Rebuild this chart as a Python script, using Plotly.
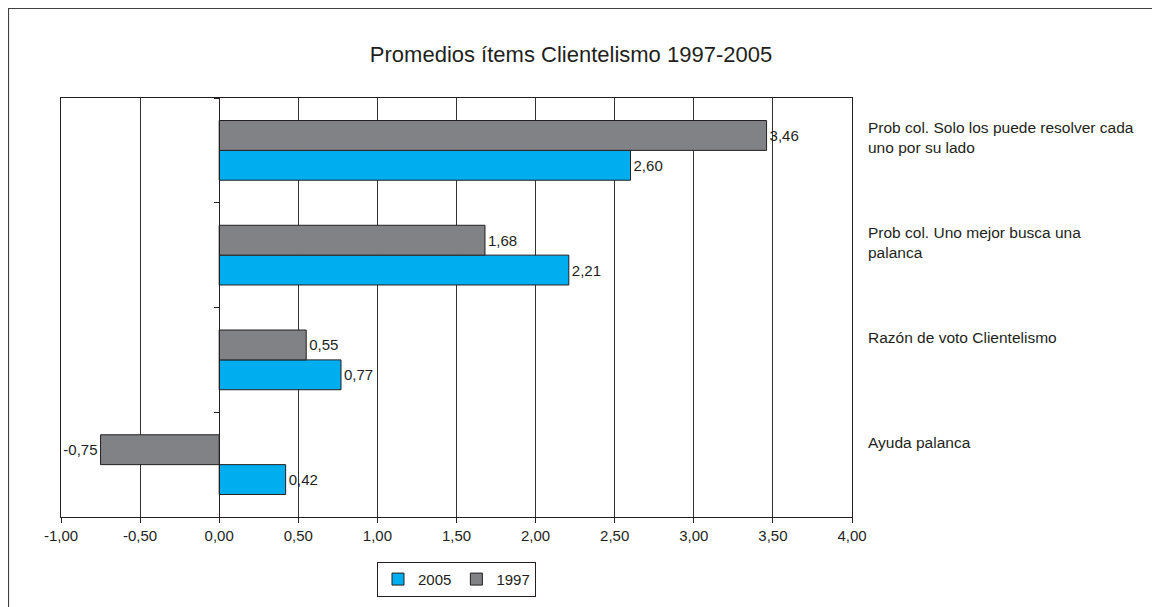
import plotly.graph_objects as go

# Categories listed bottom -> top
categories = [
    "Ayuda palanca",
    "Razón de voto Clientelismo",
    "Prob col. Uno mejor busca una<br>palanca",
    "Prob col. Solo los puede resolver cada<br>uno por su lado",
]
values_2005 = [0.42, 0.77, 2.21, 2.60]
values_1997 = [-0.75, 0.55, 1.68, 3.46]
x_ticks = [-1.0, -0.5, 0.0, 0.5, 1.0, 1.5, 2.0, 2.5, 3.0, 3.5, 4.0]


def fmt(v):
    return f"{v:.2f}".replace(".", ",")


FONT = "Liberation Sans, Arial, sans-serif"
DARK = "#231f20"
FS = 15

# page body has an 8px margin; compensate so the plot lands where the reference has it
ML, MT, MR, MB = 53, 90, 316, 98
W, H = 1160, 607
PW, PH = W - ML - MR, H - MT - MB

fig = go.Figure()
fig.add_trace(go.Bar(
    name="2005", y=categories, x=values_2005, orientation="h",
    marker=dict(color="#00aeef", line=dict(color=DARK, width=1)),
    text=[fmt(v) for v in values_2005], textposition="outside", cliponaxis=False,
    textfont=dict(size=FS, color=DARK, family=FONT),
))
fig.add_trace(go.Bar(
    name="1997", y=categories, x=values_1997, orientation="h",
    marker=dict(color="#808285", line=dict(color=DARK, width=1)),
    text=[fmt(v) for v in values_1997], textposition="outside", cliponaxis=False,
    textfont=dict(size=FS, color=DARK, family=FONT),
))
# invisible trace to build the category axis crossing at x=0
fig.add_trace(go.Scatter(
    x=[0] * len(categories), y=categories, yaxis="y2", mode="none",
    showlegend=False, hoverinfo="skip",
))

# category labels on the right side
for c in categories:
    fig.add_annotation(
        x=1 + 14 / PW, xref="paper", y=c, yref="y", text=c, showarrow=False,
        xanchor="left", yanchor="top", align="left", yshift=33,
        font=dict(size=15.5, color=DARK, family=FONT),
    )

# outer chart border (figure edge)
fig.add_shape(type="rect", xref="paper", yref="paper",
              x0=-(ML - 0.5) / PW, x1=(W - ML + 20) / PW,
              y0=-(MB + 20) / PH, y1=1 + (MT - 0.5) / PH,
              line=dict(color="#404040", width=1.2), fillcolor="rgba(0,0,0,0)")

fig.update_layout(
    width=W, height=H,
    margin=dict(l=ML, r=MR, t=MT, b=MB),
    paper_bgcolor="white", plot_bgcolor="white",
    barmode="group", bargap=0.43, bargroupgap=0,
    font=dict(family=FONT, color=DARK, size=FS),
    title=dict(text="Promedios ítems Clientelismo 1997-2005",
               x=563 / W, xref="container", xanchor="center",
               y=1 - 46 / H, yref="container", yanchor="middle",
               font=dict(size=22, color=DARK, family=FONT)),
    xaxis=dict(
        range=[-1, 4], tickvals=x_ticks, ticktext=[fmt(v) for v in x_ticks],
        showgrid=True, gridcolor="#333333", gridwidth=1,
        zeroline=False, showline=True, linecolor=DARK, linewidth=1, mirror=True,
        ticks="outside", ticklen=5, tickcolor=DARK,
        tickfont=dict(size=FS, color=DARK, family=FONT),
    ),
    yaxis=dict(
        type="category", categoryorder="array", categoryarray=categories,
        range=[-0.5, len(categories) - 0.5],
        showticklabels=False, showgrid=False, zeroline=False,
        showline=True, linecolor=DARK, linewidth=1, mirror=True, ticks="",
    ),
    yaxis2=dict(
        type="category", categoryorder="array", categoryarray=categories,
        range=[-0.5, len(categories) - 0.5],
        overlaying="y", anchor="free", position=0.2, side="left",
        showticklabels=False, showgrid=False, zeroline=False,
        showline=True, linecolor=DARK, linewidth=1,
        ticks="outside", ticklen=5, tickcolor=DARK, tickson="boundaries",
    ),
    legend=dict(
        orientation="h", x=0.5, xanchor="center", y=-0.107, yanchor="top",
        bordercolor=DARK, borderwidth=1, font=dict(size=15, color=DARK, family=FONT),
        itemwidth=30, tracegroupgap=0,
    ),
)

fig.write_html("out.html")
